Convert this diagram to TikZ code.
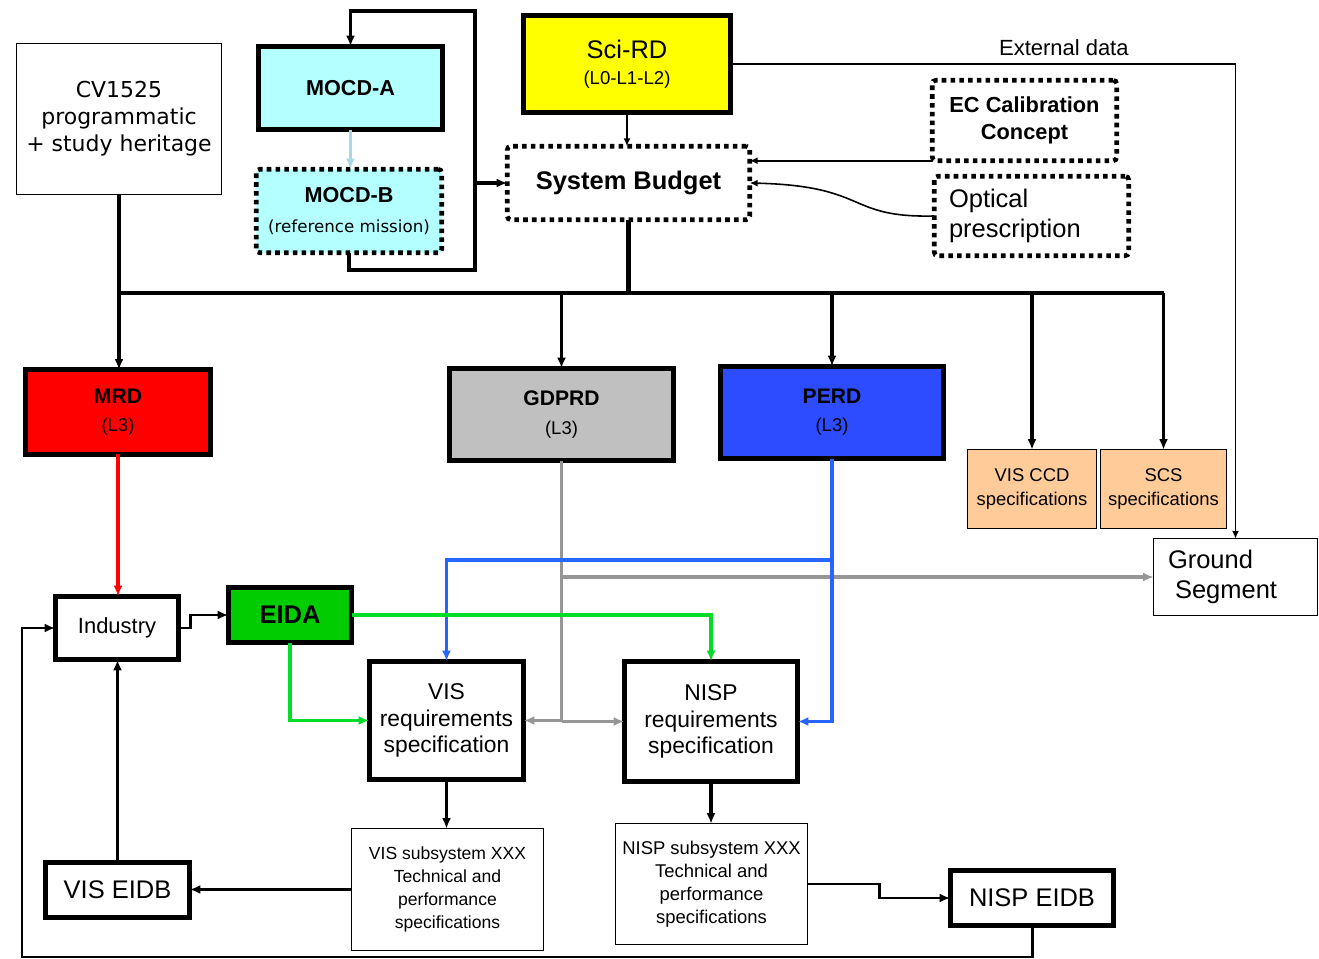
\documentclass[tikz,border=0pt]{standalone}
\usepackage{fontspec}
\setmainfont{Liberation Sans}
\newfontfamily\verdfont{DejaVu Sans}
\usetikzlibrary{arrows.meta}

\newcommand\fs[2]{\fontsize{#1}{#2}\selectfont}

\definecolor{mocdcyan}{RGB}{180,255,255}
\definecolor{mocdarrow}{RGB}{170,215,225}
\definecolor{sciyellow}{RGB}{255,255,0}
\definecolor{mrdred}{RGB}{255,0,0}
\definecolor{gdgray}{RGB}{192,192,192}
\definecolor{perdblue}{RGB}{45,75,255}
\definecolor{specorange}{RGB}{255,204,153}
\definecolor{eidagreen}{RGB}{0,204,0}
\definecolor{linered}{RGB}{255,0,0}
\definecolor{linegray}{RGB}{150,150,150}
\definecolor{lineblue}{RGB}{40,100,255}
\definecolor{linegreen}{RGB}{0,220,40}

\begin{document}
\begin{tikzpicture}[
  x=0.02cm, y=-0.02cm,
  >={Latex[length=6pt,width=5pt]},
  box/.style={draw, align=center, outer sep=0pt, inner sep=1pt},
  thickbox/.style={box, line width=2.6pt},
  dotbox/.style={box, line width=2.6pt, dash pattern=on 2.6pt off 2.4pt, rounded corners=2pt},
  thinbox/.style={box, line width=0.8pt},
  link/.style={line width=2pt},
  mid/.style={line width=1.7pt},
  thinlink/.style={line width=0.9pt, -{Latex[length=4.5pt,width=4pt]}}
]
  \useasboundingbox (0,0) rectangle (1319,959);

  % upper row: heritage, mission docs, science requirements
  \node[thinbox, minimum width=4.09cm, minimum height=3.01cm, font=\verdfont\fs{12.5}{15.3}] (cv) at (119,119) {CV1525\\programmatic\\+ study heritage};
  \node[thickbox, fill=mocdcyan, minimum width=3.69cm, minimum height=1.67cm, font=\bfseries\fs{12.3}{15}] (mocda) at (350.5,88) {MOCD-A};
  \node[dotbox, fill=mocdcyan, minimum width=3.71cm, minimum height=1.67cm, font=\fs{12.3}{17}] (mocdb) at (349,211) {\textbf{MOCD-B}\\{\verdfont\fs{9.5}{11}(reference mission)}};
  \node[thickbox, fill=sciyellow, minimum width=4.15cm, minimum height=1.95cm, font=\fs{14.5}{15}] (scird) at (627,64) {Sci-RD\\{\fs{10.6}{12}(L0-L1-L2)}};
  \node[dotbox, minimum width=4.85cm, minimum height=1.47cm, font=\bfseries\fs{14.5}{17}] (budget) at (628.5,183) {System Budget};
  \node[dotbox, minimum width=3.69cm, minimum height=1.61cm, font=\bfseries\fs{12.4}{15.3}] (ec) at (1024.5,120.5) {EC Calibration\\Concept};
  \node[dotbox, minimum width=3.89cm, minimum height=1.59cm, text width=3.3cm, align=left, font=\fs{14.5}{17}] (optical) at (1031.5,216) {Optical\\prescription};

  % L3 documents
  \node[thickbox, fill=mrdred, minimum width=3.71cm, minimum height=1.69cm, font=\fs{10.5}{16}] (mrd) at (118,412) {{\bfseries\fs{12}{16}MRD}\\(L3)};
  \node[thickbox, fill=gdgray, minimum width=4.49cm, minimum height=1.85cm, font=\fs{10.5}{16}] (gdprd) at (561.5,414.5) {{\bfseries\fs{12}{16}GDPRD}\\(L3)};
  \node[thickbox, fill=perdblue, minimum width=4.47cm, minimum height=1.85cm, font=\fs{10.5}{16}] (perd) at (832,412.5) {{\bfseries\fs{12}{16}PERD}\\(L3)};
  \node[thinbox, fill=specorange, minimum width=2.57cm, minimum height=1.57cm, font=\fs{10.5}{13.6}] (visccd) at (1032,489) {VIS CCD\\specifications};
  \node[thinbox, fill=specorange, minimum width=2.51cm, minimum height=1.57cm, font=\fs{10.5}{13.6}] (scs) at (1163.5,489) {SCS\\specifications};
  \node[thinbox, minimum width=3.27cm, minimum height=1.53cm, text width=2.7cm, align=left, font=\fs{14.5}{17}] (ground) at (1235.5,577) {Ground\\\hspace*{4pt}Segment};

  % lower part: industry and specifications
  \node[thickbox, minimum width=2.47cm, minimum height=1.27cm, font=\fs{12.5}{15}] (industry) at (117,628) {Industry};
  \node[thickbox, fill=eidagreen, minimum width=2.47cm, minimum height=1.11cm, font=\bfseries\fs{14.5}{17}] (eida) at (290,615) {EIDA};
  \node[thickbox, minimum width=3.09cm, minimum height=2.37cm, font=\fs{13}{15.3}] (visreq) at (446.5,720.5) {VIS\\requirements\\specification};
  \node[thickbox, minimum width=3.47cm, minimum height=2.41cm, font=\fs{13}{15.3}] (nispreq) at (711,721.5) {NISP\\requirements\\specification};
  \node[thinbox, minimum width=3.83cm, minimum height=2.43cm, font=\fs{10}{13}] (vissub) at (447.5,889.5) {VIS subsystem XXX\\Technical and\\performance\\specifications};
  \node[thinbox, minimum width=3.83cm, minimum height=2.41cm, font=\fs{10.5}{13}] (nispsub) at (711.5,884) {NISP subsystem XXX\\Technical and\\performance\\specifications};
  \node[thickbox, minimum width=2.89cm, minimum height=1.11cm, font=\fs{14.5}{17}] (visedb) at (117.5,890) {VIS EIDB};
  \node[thickbox, minimum width=3.27cm, minimum height=1.11cm, font=\fs{14.5}{17}] (nispedb) at (1032,898) {NISP EIDB};

  \coordinate (loopB) at (475,270);
  \coordinate (loopT) at (475,11);
  \coordinate (busL) at (119,293);
  \coordinate (busR) at (1164,293);
  \coordinate (bluJ) at (832,560);
  \coordinate (botL) at (22,957);

  % MOCD loop and inputs to the budget
  \draw[->, draw=mocdarrow, line width=2pt] (mocda.south) -- (mocda.south |- mocdb.north);
  \draw[link, ->] (mocdb.south) |- (loopB) -- (loopT) -| (mocda.north);
  \draw[link, ->] (loopB |- budget.west) -- (budget.west);
  \draw[thinlink] (scird.south) -- (scird.south |- budget.north);
  \draw[thinlink] (scird.east) -| node[pos=0.33, above=1pt, font=\fs{12.5}{14}] (extlabel) {External data} (ground.north);
  \draw[thinlink] (ec.south west) -- (ec.south west -| budget.east);
  \draw[thinlink] (optical.west) .. controls (845,218) and (870,186) .. (budget.east);

  % distribution bus
  \draw[line width=2.4pt] (budget.south) -- (budget.south |- busL);
  \draw[line width=2.4pt] (busL) -- (busR);
  \draw[link, ->] (cv.south) -- (cv.south |- mrd.north);
  \foreach \n in {gdprd, perd, visccd, scs}
    \draw[link, ->] (\n.north |- busL) -- (\n.north);

  % flows from the L3 documents
  \draw[link, draw=linered, ->] (mrd.south) -- (mrd.south |- industry.north);
  \draw[link, draw=linegray] (gdprd.south) -- (gdprd.south |- visreq.east);
  \draw[link, draw=linegray, ->] (gdprd.south |- visreq.east) -- (visreq.east);
  \draw[link, draw=linegray, ->] (gdprd.south |- nispreq.west) -- (nispreq.west);
  \draw[link, draw=linegray, ->] (gdprd.south |- ground.west) -- (ground.west);
  \draw[link, draw=lineblue, ->] (perd.south) |- (nispreq.east);
  \draw[link, draw=lineblue, ->] (bluJ) -| (visreq.north);
  \draw[link, draw=linegreen, ->] (eida.east) -| (nispreq.north);
  \draw[link, draw=linegreen, ->] (eida.south) |- (visreq.west);

  % industry loop
  \draw[mid, ->] (industry.east) -- ++(12,0) |- (eida.west);
  \draw[link, ->] (visreq.south) -- (visreq.south |- vissub.north);
  \draw[link, ->] (nispreq.south) -- (nispreq.south |- nispsub.north);
  \draw[link, ->] (vissub.west) -- (vissub.west -| visedb.east);
  \draw[link, ->] (visedb.north) -- (visedb.north |- industry.south);
  \draw[mid, ->] (nispsub.east) -- ++(72,0) |- (nispedb.west);
  \draw[mid, ->] (nispedb.south) |- (botL) |- (industry.west);
\end{tikzpicture}
\end{document}
